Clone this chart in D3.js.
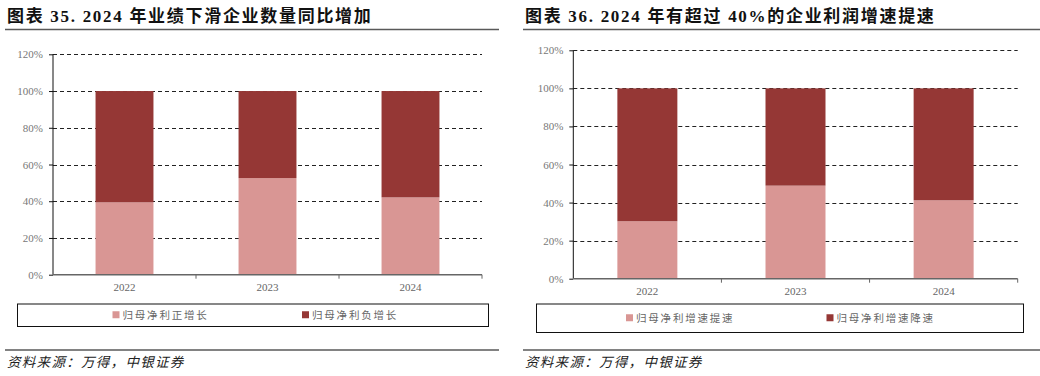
<!DOCTYPE html>
<html>
<head>
<meta charset="utf-8">
<script src="https://cdn.jsdelivr.net/npm/d3@7"></script>
<style>
  body { margin: 0; background: #fff; }
  svg { display: block; }
</style>
</head>
<body>
<svg id="chart" width="1040" height="376"></svg>
<script>
// data
var years = ['2022', '2023', '2024'];
var yTicks = [0, 20, 40, 60, 80, 100, 120];

var leftTitle = '图表 35. 2024 年业绩下滑企业数量同比增加';
var leftSeries = ['归母净利正增长', '归母净利负增长'];
var leftPos = [39.4, 52.6, 42.1];
var leftNeg = [60.6, 47.4, 57.9];

var rightTitle = '图表 36. 2024 年有超过 40%的企业利润增速提速';
var rightSeries = ['归母净利增速提速', '归母净利增速降速'];
var rightPos = [30.2, 48.9, 41.2];
var rightNeg = [69.8, 51.1, 58.8];

var source = '资料来源：万得，中银证券';
var colors = ['#d99694', '#953735'];

var svg = d3.select('#chart');
var serif = '"Liberation Serif", "Times New Roman", "Noto Sans CJK SC", serif';

drawPanel({
  title: leftTitle, series: leftSeries, pos: leftPos, neg: leftNeg,
  left: 5, right: 499, x0: 53, x1: 482, yTop: 54.3, yBot: 274.7,
  legend: { x: 17, y: 303.5, w: 471, h: 22.5, items: [112.5, 302] }
});
drawPanel({
  title: rightTitle, series: rightSeries, pos: rightPos, neg: rightNeg,
  left: 523, right: 1040, x0: 573.3, x1: 1017.7, yTop: 50.3, yBot: 278.7,
  legend: { x: 536, y: 303.5, w: 487, h: 28.5, items: [626, 826.5] }
});

function drawPanel (cfg) {
  var g = svg.append('g');

  // title + rule
  g.append('text')
    .attr('x', cfg.left + 2)
    .attr('y', 22)
    .attr('font-family', serif)
    .attr('font-weight', 'bold')
    .attr('font-size', 17)
    .attr('letter-spacing', 1.7)
    .attr('fill', '#111')
    .text(cfg.title);

  g.append('line')
    .attr('x1', cfg.left).attr('x2', cfg.right)
    .attr('y1', 29.5).attr('y2', 29.5)
    .attr('stroke', '#595959').attr('stroke-width', 1.5);

  var rows = years.map(function(y, i) {
    return { year: y, pos: cfg.pos[i], neg: cfg.neg[i] };
  });

  var x = d3.scaleBand().domain(years).range([cfg.x0, cfg.x1]).padding(0);
  var y = d3.scaleLinear().domain([0, 120]).range([cfg.yBot, cfg.yTop]);
  var barW = x.bandwidth() * 0.405;

  // dashed gridlines
  g.append('g').selectAll('line')
    .data(yTicks.filter(function(d) { return d > 0; }))
    .enter().append('line')
    .attr('x1', cfg.x0).attr('x2', cfg.x1)
    .attr('y1', function(d) { return Math.round(y(d)) + 0.5; })
    .attr('y2', function(d) { return Math.round(y(d)) + 0.5; })
    .attr('stroke', '#222')
    .attr('stroke-dasharray', '4,3');

  // stacked bars
  var stack = d3.stack().keys(['pos', 'neg'])(rows);
  g.append('g').selectAll('g')
    .data(stack)
    .enter().append('g')
    .attr('fill', function(d, i) { return colors[i]; })
    .selectAll('rect')
    .data(function(d) { return d; })
    .enter().append('rect')
    .attr('x', function(d) { return x(d.data.year) + (x.bandwidth() - barW) / 2; })
    .attr('width', barW)
    .attr('y', function(d) { return y(d[1]); })
    .attr('height', function(d) { return y(d[0]) - y(d[1]); });

  // y axis
  var yAxis = g.append('g')
    .attr('transform', 'translate(' + cfg.x0 + ',0)')
    .call(d3.axisLeft(y).tickValues(yTicks)
      .tickFormat(function(d) { return d + '%'; })
      .tickSize(4).tickPadding(6));
  yAxis.select('.domain').attr('stroke', '#111').attr('d', 'M0,' + cfg.yTop + 'V' + cfg.yBot);
  yAxis.selectAll('line').attr('stroke', '#111');
  yAxis.selectAll('text')
    .attr('font-family', serif).attr('font-size', 11).attr('fill', '#777');

  // x axis
  var xAxis = g.append('g')
    .attr('transform', 'translate(0,' + cfg.yBot + ')')
    .call(d3.axisBottom(x).tickSize(0).tickPadding(9));
  xAxis.select('.domain').attr('stroke', '#666').attr('stroke-width', 1.5)
    .attr('d', 'M' + cfg.x0 + ',0H' + cfg.x1);
  xAxis.selectAll('text')
    .attr('font-family', serif).attr('font-size', 11).attr('fill', '#666');

  var edges = years.map(function(d) { return x(d); }).concat([cfg.x1]);
  xAxis.selectAll('.edge')
    .data(edges.slice(1))
    .enter().append('line')
    .attr('class', 'edge')
    .attr('x1', function(d) { return d; }).attr('x2', function(d) { return d; })
    .attr('y1', 0).attr('y2', 4)
    .attr('stroke', '#666');

  // legend
  var L = cfg.legend;
  g.append('rect')
    .attr('x', L.x + 0.5).attr('y', L.y + 0.5)
    .attr('width', L.w).attr('height', L.h)
    .attr('fill', 'none').attr('stroke', '#111');

  var cy = L.y + L.h / 2;
  cfg.series.forEach(function(name, i) {
    g.append('rect')
      .attr('x', L.items[i]).attr('y', cy - 3.5)
      .attr('width', 7).attr('height', 7)
      .attr('fill', colors[i]);
    g.append('text')
      .attr('x', L.items[i] + 10)
      .attr('y', cy + 4)
      .attr('font-family', '"Noto Sans CJK SC", sans-serif')
      .attr('font-size', 10.5)
      .attr('letter-spacing', 1.8)
      .attr('fill', '#666')
      .text(name);
  });

  // source line
  g.append('line')
    .attr('x1', cfg.left).attr('x2', cfg.right)
    .attr('y1', 350).attr('y2', 350)
    .attr('stroke', '#595959').attr('stroke-width', 1.5);

  g.append('text')
    .attr('x', cfg.left + 2)
    .attr('y', 367)
    .attr('font-family', '"Noto Sans CJK SC", sans-serif')
    .attr('font-style', 'italic')
    .attr('font-size', 13.5)
    .attr('letter-spacing', 1.3)
    .attr('fill', '#222')
    .text(source);
}
</script>
</body>
</html>
